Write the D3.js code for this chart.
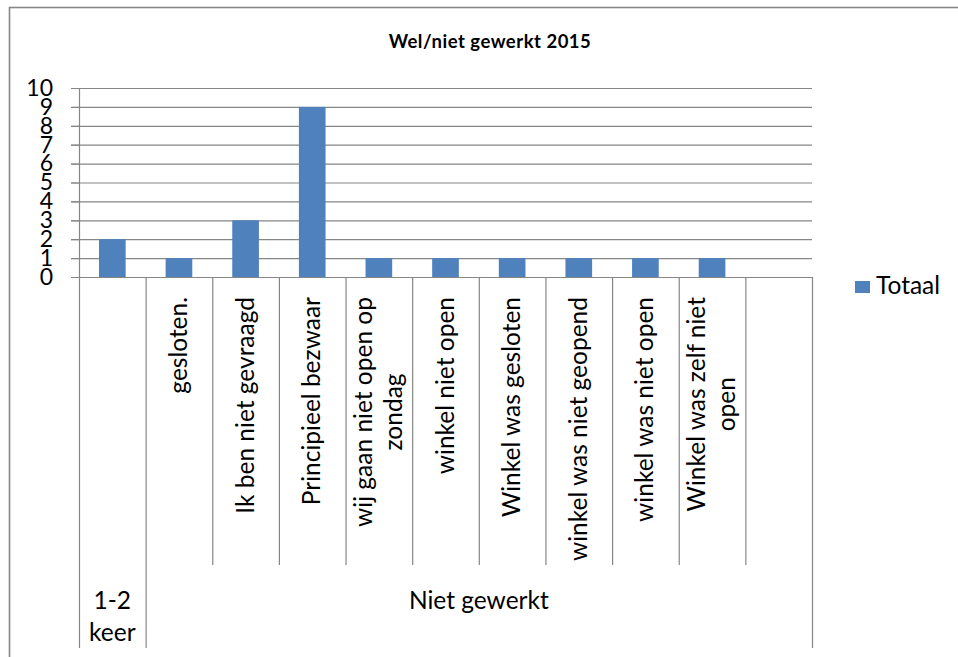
<!DOCTYPE html>
<html><head><meta charset="utf-8">
<script src="https://cdn.jsdelivr.net/npm/d3@7"></script>
<style>body{margin:0;background:#fff} svg{display:block}</style>
</head><body><svg id="chart" width="958" height="657"></svg>
<script>
const chartTitle = "Wel/niet gewerkt 2015";
const seriesName = "Totaal";
const categoryLabels = [
  [""],
  ["gesloten."],
  ["Ik ben niet gevraagd"],
  ["Principieel bezwaar"],
  ["wij gaan niet open op", "zondag"],
  ["winkel niet open"],
  ["Winkel was gesloten"],
  ["winkel was niet geopend"],
  ["winkel was niet open"],
  ["Winkel was zelf niet", "open"],
  [""]
];
const categoryGroup = [0, 1, 1, 1, 1, 1, 1, 1, 1, 1, 1];
const groupLabels = [["1-2", "keer"], ["Niet gewerkt"]];
const values = [2, 1, 3, 9, 1, 1, 1, 1, 1, 1, null];
const yTicks = [0, 1, 2, 3, 4, 5, 6, 7, 8, 9, 10];

const FONT = "Lato, 'Noto Sans', sans-serif";
const svg = d3.select("#chart");
const n = values.length;
const plotL = 79, plotR = 812, plotT = 88, plotB = 277;
const x = d3.scaleBand().domain(d3.range(n)).range([plotL, plotR]).paddingInner(0).paddingOuter(0);
const y = d3.scaleLinear().domain([0, 10]).range([plotB, plotT]);
const gridColor = "#868686";

// outer chart border (extends beyond the visible window)
svg.append("rect").attr("x", 9.5).attr("y", 7.5).attr("width", 1000).attr("height", 700)
  .attr("fill", "none").attr("stroke", "#878787").attr("stroke-width", 1.6);

// title
svg.append("text").attr("x", 490).attr("y", 48).attr("text-anchor", "middle")
  .attr("font-family", FONT).attr("font-weight", "bold").attr("font-size", 18.5)
  .attr("letter-spacing", 0.5).attr("fill", "#000").text(chartTitle);

// gridlines
svg.append("g").selectAll("line").data(yTicks).join("line")
  .attr("x1", plotL - 8).attr("x2", plotR)
  .attr("y1", d => y(d) + 0.5).attr("y2", d => y(d) + 0.5)
  .attr("stroke", gridColor).attr("stroke-width", 1.2);

// y axis labels
const yAxis = svg.append("g").attr("transform", `translate(${plotL},0)`)
  .call(d3.axisLeft(y).tickValues(yTicks).tickSize(8).tickPadding(18).tickFormat(d3.format("d")));
yAxis.select(".domain").attr("stroke", gridColor).attr("stroke-width", 1.2);
yAxis.selectAll(".tick line").attr("stroke", gridColor);
yAxis.selectAll(".tick text").attr("font-family", FONT).attr("font-size", 23).attr("fill", "#000");

// bars
const barW = x.bandwidth() * 0.4;
svg.append("g").selectAll("rect").data(values.map((v, i) => ({v, i})).filter(d => d.v != null)).join("rect")
  .attr("x", d => x(d.i) + (x.bandwidth() - barW) / 2)
  .attr("width", barW)
  .attr("y", d => y(d.v))
  .attr("height", d => y(0) - y(d.v))
  .attr("fill", "#4F81BD");

// category separators
const inner1Bottom = 565, outerBottom = 648;
const bounds = d3.range(n + 1);
svg.append("g").selectAll("line").data(bounds).join("line")
  .attr("x1", i => (i < n ? x(i) : plotR) + 0.5)
  .attr("x2", i => (i < n ? x(i) : plotR) + 0.5)
  .attr("y1", plotB)
  .attr("y2", i => (i === 0 || i === n || categoryGroup[i] !== categoryGroup[i - 1]) ? outerBottom : inner1Bottom)
  .attr("stroke", gridColor).attr("stroke-width", 1.2);

// rotated category labels
const labelTop = 297, lineGap = 30, labelSize = 24.5;
categoryLabels.forEach((lines, i) => {
  const cx = x(i) + x.bandwidth() / 2;
  const g = svg.append("g");
  const texts = lines.map((t, k) => g.append("text")
    .attr("font-family", FONT).attr("font-size", labelSize).attr("fill", "#000")
    .attr("text-anchor", "middle").text(t));
  const maxW = d3.max(texts, t => t.node().getComputedTextLength());
  texts.forEach((t, k) => {
    const bx = cx + 8 + (k - (lines.length - 1) / 2) * lineGap;
    const cy = labelTop + maxW / 2;
    t.attr("transform", `translate(${bx},${cy}) rotate(-90)`);
  });
});

// group labels
const groups = d3.groups(d3.range(n), i => categoryGroup[i]);
groups.forEach(([gi, idx]) => {
  const x0 = x(idx[0]);
  const x1 = idx[idx.length - 1] + 1 < n ? x(idx[idx.length - 1] + 1) : plotR;
  const cx = (x0 + x1) / 2;
  groupLabels[gi].forEach((t, k) => {
    svg.append("text").attr("x", cx).attr("y", 609 + k * 32).attr("text-anchor", "middle")
      .attr("font-family", FONT).attr("font-size", labelSize).attr("fill", "#000").text(t);
  });
});

// legend
svg.append("rect").attr("x", 855).attr("y", 281).attr("width", 15).attr("height", 12).attr("fill", "#4F81BD");
svg.append("text").attr("x", 876).attr("y", 294).attr("font-family", FONT).attr("font-size", labelSize)
  .attr("fill", "#000").text(seriesName);
</script>
</body></html>
